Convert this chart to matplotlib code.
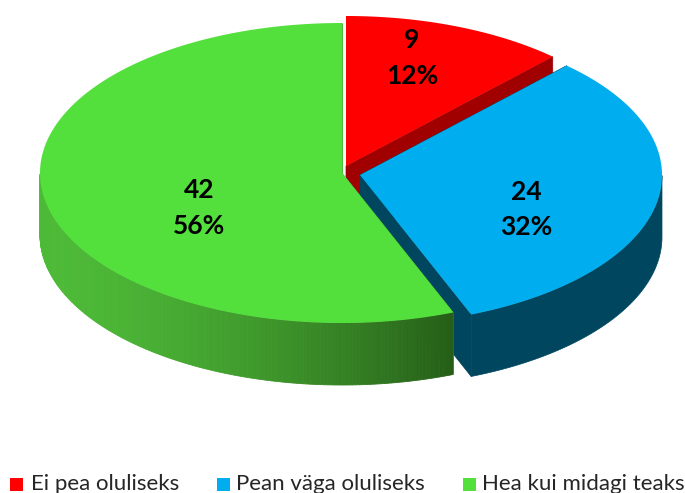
import numpy as np
import matplotlib
matplotlib.use('Agg')
import matplotlib.pyplot as plt
from matplotlib.patches import Polygon, Rectangle
from matplotlib.colors import to_rgb

# Data
categories = ['Ei pea oluliseks', 'Pean väga oluliseks', 'Hea kui midagi teaks']
values = [9, 24, 42]
percents = [12, 32, 56]

# Colours per slice: top face, side face
top_colors = ['#FF0000', '#00AEEF', '#53E03C']
side_colors = ['#A00000', '#00465F', '#4DBA37']

# Look of the fake 3D pie (pixel coordinates)
apex = [(346, 166), (360, 175), (342, 173)]
label_pos = [(412, 40, 76), (526, 192, 227), (199, 190, 226)]
legend_x = [10, 217, 463]
legend_text_x = [31, 236, 482]
rx, ry, depth = 302, 150, 62

fig = plt.figure(figsize=(6.85, 4.93), dpi=100)
ax = fig.add_axes([0, 0, 1, 1])
ax.set_xlim(0, 685)
ax.set_ylim(493, 0)
ax.axis('off')

# Slice angles, clockwise from 12 o'clock
edges = np.concatenate([[0], np.cumsum(values)]) / sum(values) * 2 * np.pi


def arc(i, n=300):
    t = np.linspace(edges[i], edges[i + 1], n)
    return apex[i][0] + rx * np.sin(t), apex[i][1] - ry * np.cos(t)


def draw_slice(i, zbase):
    x, y = arc(i)
    ax0, ay0 = apex[i]
    # cut faces from the middle out to the rim
    for j in (0, -1):
        ax.add_patch(Polygon([(ax0, ay0), (x[j], y[j]), (x[j], y[j] + depth), (ax0, ay0 + depth)],
                             closed=True, fc=side_colors[i], ec=side_colors[i], lw=0.5, zorder=zbase))
    # outer wall, only the front half shows
    front = np.cos(np.linspace(edges[i], edges[i + 1], len(x))) < 0
    xs, ys = x[front], y[front]
    if len(xs) > 1:
        if i == 2:
            # green wall goes from a bright left side to a dark right side
            dark = np.array(to_rgb('#265E18'))
            bright = np.array(to_rgb(side_colors[i]))
            for k in range(len(xs) - 1):
                f = (xs[k] - xs.min()) / (xs.max() - xs.min())
                c = bright + (dark - bright) * f ** 1.6
                ax.add_patch(Polygon([(xs[k], ys[k]), (xs[k + 1], ys[k + 1]),
                                      (xs[k + 1], ys[k + 1] + depth), (xs[k], ys[k] + depth)],
                                     closed=True, fc=c, ec=c, lw=0.6, zorder=zbase + 1))
        else:
            ax.add_patch(Polygon(list(zip(xs, ys)) + list(zip(xs[::-1], ys[::-1] + depth)),
                                 closed=True, fc=side_colors[i], ec=side_colors[i], lw=0.5, zorder=zbase + 1))
    # top face
    ax.add_patch(Polygon([(ax0, ay0)] + list(zip(x, y)), closed=True,
                         fc=top_colors[i], ec='none', zorder=zbase + 2))


# red is at the back, green goes over the blue cut face
draw_slice(0, 1)
draw_slice(1, 4)
draw_slice(2, 7)

# Slice labels
for i in range(len(values)):
    lx, y1, y2 = label_pos[i]
    ax.text(lx, y1, str(values[i]), ha='center', va='center', fontsize=19,
            family='Lato', fontweight='bold', color='black', zorder=20)
    ax.text(lx, y2, f'{percents[i]}%', ha='center', va='center', fontsize=19,
            family='Lato', fontweight='bold', color='black', zorder=20)

# Legend, runs off the bottom edge like the original
for i in range(len(categories)):
    ax.add_patch(Rectangle((legend_x[i], 478), 13, 13, fc=top_colors[i], ec='none'))
    ax.text(legend_text_x[i], 484, categories[i], ha='left', va='center', fontsize=16,
            family='Lato', color='#262626')

fig.savefig('out.png', dpi=100)
